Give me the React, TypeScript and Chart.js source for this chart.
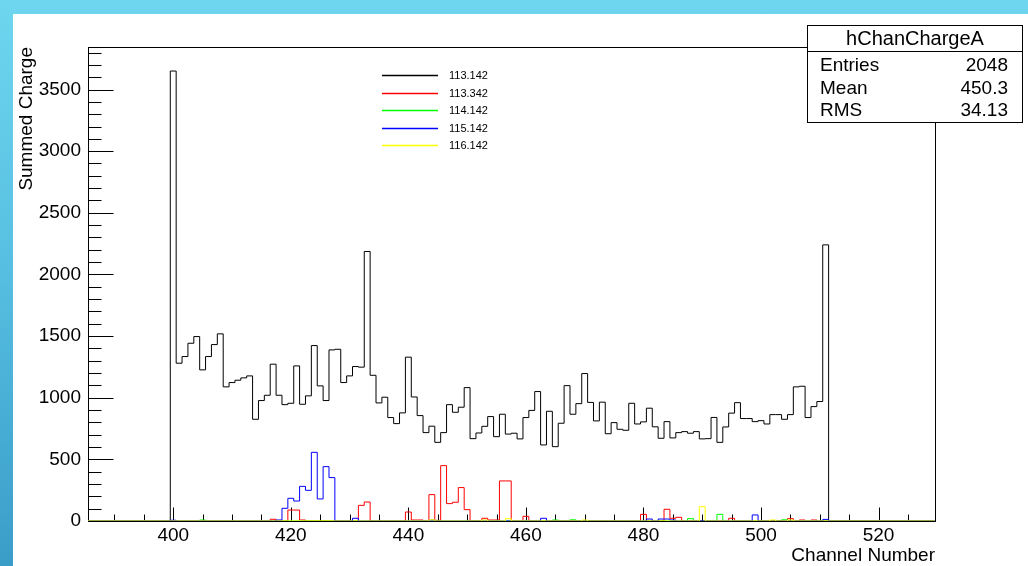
import React, { useEffect, useRef } from "react";
import { Chart, registerables } from "chart.js";

Chart.register(...registerables);

// ---------- data ----------
const blackFirstChannel = 400;
const blackValues = [
  3650, 1280, 1334, 1442, 1496, 1226, 1334, 1431, 1518, 1088,
  1123, 1142, 1161, 1177, 825, 977, 1020, 1272, 1020, 944,
  955, 1258, 947, 1015, 1423, 1096, 977, 1388, 1393, 1123,
  1177, 1253, 1248, 2186, 1182, 958, 1004, 839, 790, 877,
  1329, 1006, 855, 717, 769, 638, 717, 944, 882, 923,
  1082, 668, 714, 768, 847, 684, 866, 705, 712, 666,
  839, 897, 1050, 617, 890, 603, 793, 1098, 866, 952,
  1196, 962, 812, 964, 708, 798, 744, 736, 955, 787,
  804, 915, 764, 671, 806, 674, 717, 725, 712, 725,
  666, 668, 840, 638, 763, 875, 960, 831, 831, 806,
  814, 787, 863, 863, 825, 863, 1088, 1093, 839, 928,
  969, 2240,
];

const redChannels = [417, 420, 421, 422, 432, 433, 440, 441, 442, 444, 445, 446, 447, 448, 449, 450, 453, 454, 455, 456, 457, 460, 480, 484, 485, 486, 495, 505, 507, 509];
const redValues = [14, 89, 89, 8, 127, 154, 73, 8, 8, 214, 5, 449, 141, 152, 271, 92, 22, 8, 8, 325, 325, 38, 54, 95, 22, 30, 22, 19, 8, 8];

const greenChannels = [405, 465, 468, 488, 493, 504];
const greenValues = [8, 8, 10, 19, 54, 10];

const blueChannels = [400, 418, 419, 420, 421, 422, 423, 424, 425, 426, 427, 431, 444, 463, 481, 483, 484, 485, 499, 511];
const blueValues = [6, 8, 103, 184, 162, 281, 249, 557, 179, 441, 352, 22, 8, 22, 16, 16, 16, 8, 49, 13];

const yellowChannels = [444, 453, 457, 470, 490, 502, 505];
const yellowValues = [10, 8, 19, 8, 116, 8, 8];

const seriesLabels = ["113.142", "113.342", "114.142", "115.142", "116.142"];
const seriesColors = ["#000000", "#ff0000", "#00ff00", "#0000ff", "#ffff00"];

const statsTitle = "hChanChargeA";
const statsNames = ["Entries", "Mean", "RMS"];
const statsValues = ["2048", "450.3", "34.13"];

const xMin = 385.5;
const xMax = 529.6;
const yMax = 3845;
const firstBin = 386;
const lastBin = 529;

// ---------- helpers ----------
function buildSteps(channels: number[], values: number[]) {
  const m = new Map<number, number>();
  channels.forEach((c, i) => m.set(c, values[i]));
  const pts: { x: number; y: number }[] = [];
  for (let c = firstBin; c <= lastBin; c++) pts.push({ x: c - 0.5, y: m.get(c) ?? 0 });
  pts.push({ x: lastBin + 0.5, y: m.get(lastBin) ?? 0 });
  return pts;
}

const FONT = "'Liberation Sans', Arial, Helvetica, sans-serif";

const rootDecor = {
  id: "rootDecor",
  beforeDatasetsDraw(chart: any) {
    const { ctx, chartArea: a, scales } = chart;
    const x = scales.x;
    const y = scales.y;
    ctx.save();
    ctx.strokeStyle = "#000";
    ctx.lineWidth = 1;
    const L = Math.round(a.left) + 0.5;
    const T = Math.round(a.top) + 0.5;
    const R = Math.round(a.right) + 0.5;
    const B = Math.round(a.bottom) + 0.5;
    ctx.strokeRect(L, T, R - L, B - T);
    ctx.beginPath();
    for (let v = 0; v <= yMax; v += 100) {
      const py = Math.round(y.getPixelForValue(v)) + 0.5;
      const len = v % 500 === 0 ? 25 : 13;
      ctx.moveTo(L, py);
      ctx.lineTo(L + len, py);
    }
    for (let v = Math.ceil(xMin / 5) * 5; v <= xMax; v += 5) {
      const px = Math.round(x.getPixelForValue(v)) + 0.5;
      const len = v % 20 === 0 ? 14 : 7;
      ctx.moveTo(px, B);
      ctx.lineTo(px, B - len);
    }
    ctx.stroke();
    ctx.restore();
  },
  afterDraw(chart: any) {
    const { ctx } = chart;
    ctx.save();
    // legend
    const ds = chart.data.datasets;
    ctx.font = `11px ${FONT}`;
    ctx.textBaseline = "middle";
    ctx.textAlign = "left";
    ds.forEach((d: any, i: number) => {
      const yy = Math.round(61 + i * 17.6) + 0.5;
      ctx.strokeStyle = seriesColors[i];
      ctx.lineWidth = 1.3;
      ctx.beginPath();
      ctx.moveTo(369, yy);
      ctx.lineTo(425, yy);
      ctx.stroke();
      ctx.fillStyle = "#000";
      ctx.fillText(d.label, 436, yy);
    });
    // stats box
    const bl = 794.5, br = 1009.5, bt = 11.5, bb = 108.5, bd = 37.5;
    ctx.lineWidth = 1;
    ctx.fillStyle = "#fff";
    ctx.fillRect(bl, bt, br - bl, bb - bt);
    ctx.strokeStyle = "#000";
    ctx.strokeRect(bl, bt, br - bl, bb - bt);
    ctx.beginPath();
    ctx.moveTo(bl, bd);
    ctx.lineTo(br, bd);
    ctx.stroke();
    ctx.fillStyle = "#000";
    ctx.font = `20px ${FONT}`;
    ctx.textAlign = "center";
    ctx.fillText(statsTitle, (bl + br) / 2, 25);
    ctx.font = `19px ${FONT}`;
    const rows = [52, 75, 97];
    statsNames.forEach((n, i) => {
      ctx.textAlign = "left";
      ctx.fillText(n, 807, rows[i]);
      ctx.textAlign = "right";
      ctx.fillText(statsValues[i], 995, rows[i]);
    });
    ctx.restore();
  },
};

export default function App() {
  const ref = useRef<HTMLCanvasElement | null>(null);
  useEffect(() => {
    if (!ref.current) return;
    const blackChannels = blackValues.map((_, i) => blackFirstChannel + i);
    const sets = [
      buildSteps(blackChannels, blackValues),
      buildSteps(redChannels, redValues),
      buildSteps(greenChannels, greenValues),
      buildSteps(blueChannels, blueValues),
      buildSteps(yellowChannels, yellowValues),
    ];
    const chart = new Chart(ref.current, {
      type: "line",
      data: {
        datasets: sets.map((pts, i) => ({
          label: seriesLabels[i],
          data: pts,
          borderColor: seriesColors[i],
          backgroundColor: seriesColors[i],
          borderWidth: 1,
          pointRadius: 0,
          stepped: "before" as const,
          fill: false,
          order: 4 - i,
        })),
      },
      options: {
        responsive: false,
        animation: false,
        devicePixelRatio: 1,
        layout: { padding: { left: 0, right: 93, top: 33, bottom: 0 } },
        plugins: { legend: { display: false }, tooltip: { enabled: false } },
        scales: {
          x: {
            type: "linear",
            min: xMin,
            max: xMax,
            grid: { display: false, drawTicks: false },
            border: { display: false },
            ticks: {
              stepSize: 20,
              includeBounds: false,
              autoSkip: false,
              maxRotation: 0,
              color: "#000",
              padding: 3,
              font: { family: FONT, size: 19 },
              callback: (v: any) => String(v),
            },
            title: {
              display: true,
              text: "Channel Number",
              align: "end",
              color: "#000",
              font: { family: FONT, size: 19 },
              padding: { top: 0, bottom: -1 },
            },
            afterFit: (s: any) => {
              s.height = 45;
            },
          },
          y: {
            type: "linear",
            min: 0,
            max: yMax,
            grid: { display: false, drawTicks: false },
            border: { display: false },
            ticks: {
              includeBounds: false,
              maxTicksLimit: 11,
              color: "#000",
              padding: 7,
              font: { family: FONT, size: 19 },
              callback: (v: any) => String(v),
            },
            title: {
              display: true,
              text: "Summed Charge",
              align: "end",
              color: "#000",
              font: { family: FONT, size: 19 },
              padding: { top: 2, bottom: 0 },
            },
            afterFit: (s: any) => {
              s.width = 75;
            },
          },
        },
      } as any,
      plugins: [rootDecor],
    });
    return () => chart.destroy();
  }, []);

  return (
    <div
      style={{
        position: "fixed",
        left: 0,
        top: 0,
        width: 1028,
        height: 566,
        background: "linear-gradient(180deg, #6fd6ef 0%, #55bde0 50%, #3a9dc8 100%)",
        overflow: "hidden",
      }}
    >
      <div style={{ position: "absolute", left: 13, top: 14, width: 1015, height: 552, background: "#fff" }}>
        <canvas ref={ref} width={1015} height={552} style={{ display: "block", width: 1015, height: 552 }} />
      </div>
    </div>
  );
}
